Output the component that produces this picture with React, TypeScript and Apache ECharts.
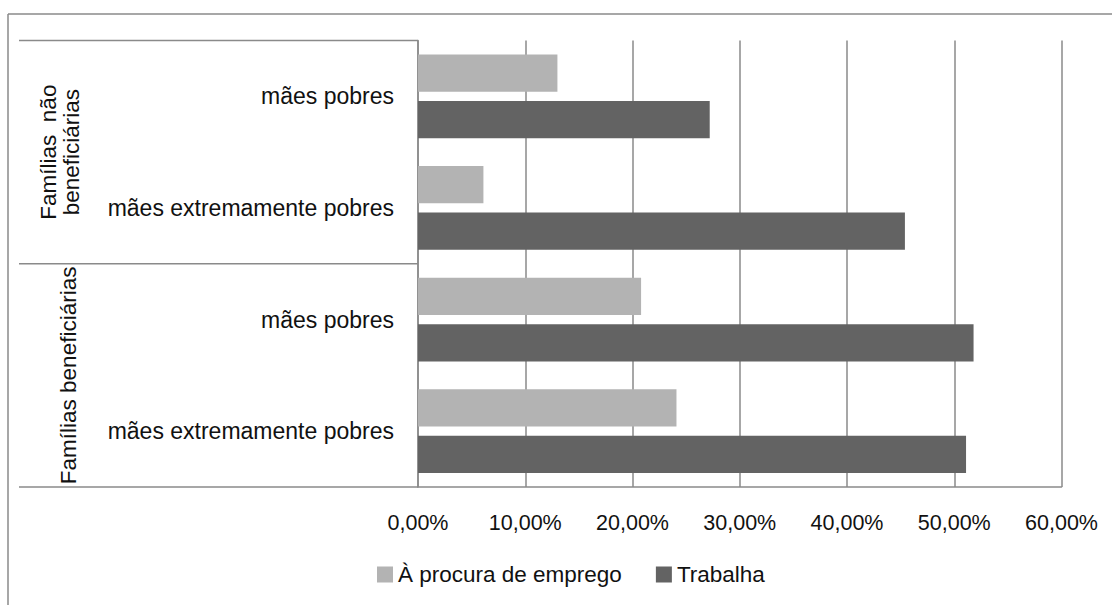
import React, { useEffect, useRef } from "react";
import * as echarts from "echarts";

// ---- data ----
const categories = [
  "mães pobres",
  "mães extremamente pobres",
  "mães pobres",
  "mães extremamente pobres",
];
const groupLabels = ["Famílias  não\nbeneficiárias", "Famílias beneficiárias"];
const groupMembers = [
  [0, 1],
  [2, 3],
];
const seriesNames = ["À procura de emprego", "Trabalha"];
const procuraValues = [13.0, 6.1, 20.8, 24.1];
const trabalhaValues = [27.2, 45.4, 51.8, 51.1];
const xMin = 0;
const xMax = 60;
const xInterval = 10;

const W = 1112;
const H = 605;
const FONT = "'Liberation Sans', Arial, sans-serif";
const LINE = "#8a8a8a";

export default function App() {
  const ref = useRef<HTMLDivElement>(null);
  useEffect(() => {
    const el = ref.current!;
    const chart = echarts.init(el, null, { renderer: "svg" });
    const fmt = (v: number) => v.toFixed(2).replace(".", ",") + "%";
    const gridLeft = 418;
    const gridTop = 40.5;
    const gridBottom = 118;
    chart.setOption({
      animation: false,
      backgroundColor: "#ffffff",
      textStyle: { fontFamily: FONT },
      grid: { left: gridLeft, right: 50.5, top: gridTop, bottom: gridBottom, containLabel: false },
      legend: {
        left: 377,
        top: 563,
        padding: 0,
        itemWidth: 16,
        itemHeight: 16,
        itemGap: 34,
        icon: "rect",
        data: seriesNames,
        textStyle: { fontSize: 22.5, lineHeight: 22, color: "#111", fontFamily: FONT, padding: [0, 0, 0, 0] },
      },
      xAxis: {
        type: "value",
        min: xMin,
        max: xMax,
        interval: xInterval,
        axisLine: { show: true, lineStyle: { color: LINE, width: 1.5 } },
        axisTick: { show: false },
        splitLine: { show: true, lineStyle: { color: LINE, width: 1.5 } },
        axisLabel: {
          formatter: fmt,
          fontSize: 21.5,
          color: "#111",
          margin: 25,
          fontFamily: FONT,
        },
      },
      yAxis: {
        type: "category",
        inverse: true,
        data: categories,
        axisLine: { show: true, lineStyle: { color: LINE, width: 1.5 } },
        axisTick: { show: false },
        axisLabel: { fontSize: 23, color: "#111", margin: 24, fontFamily: FONT },
      },
      series: [
        {
          name: seriesNames[0],
          type: "bar",
          data: procuraValues,
          itemStyle: { color: "#b3b3b3" },
          barGap: "25%",
          barCategoryGap: "25%",
        },
        {
          name: seriesNames[1],
          type: "bar",
          data: trabalhaValues,
          itemStyle: { color: "#636363" },
          barGap: "25%",
          barCategoryGap: "25%",
        },
      ],
    });

    const c = categories.map((_, i) => chart.convertToPixel({ yAxisIndex: 0 }, i) as number);
    const band = c[1] - c[0];
    const boundaries: number[] = [c[0] - band / 2];
    groupMembers.forEach((m, gi) => {
      const last = m[m.length - 1];
      boundaries.push(gi < groupMembers.length - 1 ? (c[last] + c[last + 1]) / 2 : c[last] + band / 2);
    });
    const graphics: any[] = [];
    boundaries.forEach((y) => {
      graphics.push({
        type: "line",
        shape: { x1: 19, y1: y, x2: gridLeft, y2: y },
        style: { stroke: LINE, lineWidth: 1.5 },
      });
    });
    const groupX = [59.5, 68];
    groupMembers.forEach((m, gi) => {
      const cy = (boundaries[gi] + boundaries[gi + 1]) / 2;
      graphics.push({
        type: "text",
        x: groupX[gi],
        y: cy,
        rotation: Math.PI / 2,
        style: {
          text: groupLabels[gi],
          fontSize: 22.5,
          fontFamily: FONT,
          fill: "#111",
          align: "center",
          verticalAlign: "middle",
          lineHeight: 23,
        },
      });
    });
    graphics.push({
      type: "line",
      shape: { x1: 8, y1: 14, x2: W, y2: 14 },
      style: { stroke: LINE, lineWidth: 1.5 },
    });
    graphics.push({
      type: "line",
      shape: { x1: 8, y1: 14, x2: 8, y2: H },
      style: { stroke: LINE, lineWidth: 1.5 },
    });
    chart.setOption({ graphic: graphics });

    return () => chart.dispose();
  }, []);
  return (
    <div
      ref={ref}
      style={{ position: "absolute", left: 0, top: 0, width: W, height: H, background: "#fff" }}
    />
  );
}
